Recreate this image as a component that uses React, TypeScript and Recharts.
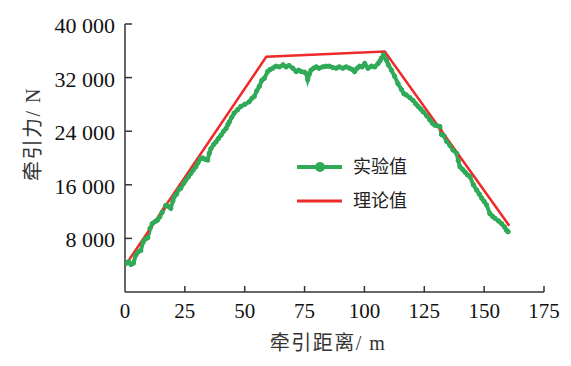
import React from 'react';
import { LineChart, Line, XAxis, YAxis, Legend, Label } from 'recharts';

const GREEN = '#2FAA58';
const RED = '#EE2A2A';
const AXIS = '#333333';
const SERIF = "'Liberation Serif', 'Times New Roman', 'Noto Sans CJK SC', serif";

const xTicks = [0, 25, 50, 75, 100, 125, 150, 175];
const yTicks = [8000, 16000, 24000, 32000, 40000];

const seriesNames = ['实验值', '理论值'];

// 实验值 (distance m, force N)
const experimental = [
  [0.5, 4300], [1.5, 4500], [2.5, 4100], [3.5, 4300], [4.5, 5500], [5.5, 6000], [6.6, 6200],
  [7.5, 7400], [8.5, 7900], [9.5, 8100], [10.5, 9500], [11.4, 10200], [12.5, 10500], [13.5, 10700],
  [14.5, 11200], [15.5, 11900], [17.0, 12900], [18.0, 12800], [19.1, 12500], [20.0, 13600],
  [20.5, 14200], [21.5, 14600], [22.5, 15300], [23.3, 15500], [24.5, 16200], [25.4, 16700],
  [26.5, 17200], [27.5, 17700], [28.5, 18200], [29.6, 18700], [30.5, 19300], [31.5, 19900],
  [32.4, 20000], [33.5, 19800], [34.5, 19700], [35.2, 20700], [35.9, 21400], [37.0, 22000],
  [38.0, 22400], [39.0, 22900], [40.1, 23400], [41.2, 24000], [42.2, 24400], [43.0, 25000],
  [43.6, 25400], [44.6, 26100], [45.6, 26700], [47.0, 27200], [48.4, 27700], [50.0, 28000],
  [51.9, 28400], [53.0, 28900], [54.0, 29200], [55.0, 30000], [56.1, 30700], [57.2, 31600],
  [58.2, 31900], [59.6, 32900], [60.6, 33200], [61.7, 33400], [63.0, 33700], [64.5, 33600],
  [66.0, 33900], [67.3, 33600], [68.5, 33800], [70.1, 33400], [71.5, 32900], [72.5, 33100],
  [73.6, 32900], [75.0, 32800], [75.7, 32600], [76.3, 31700], [77.0, 32500], [77.7, 33100],
  [78.8, 33400], [79.9, 33600], [81.0, 33400], [82.6, 33600], [84.0, 33700], [85.4, 33700],
  [86.8, 33500], [88.2, 33400], [89.5, 33600], [91.0, 33400], [92.4, 33600], [93.8, 33400],
  [95.0, 33200], [95.9, 32900], [97.0, 33400], [98.0, 33700], [99.0, 33600], [100.1, 34100],
  [101.5, 33400], [102.9, 33700], [104.3, 33600], [105.7, 34100], [106.5, 34500], [107.1, 34900],
  [108.0, 35400], [109.2, 34600], [110.0, 33900], [111.3, 33100], [112.6, 32200], [114.0, 31100],
  [115.5, 30200], [116.5, 29600], [117.5, 29400], [119.0, 29000], [120.3, 28600], [121.4, 28100],
  [122.4, 27700], [123.5, 27300], [124.5, 26900], [126.0, 26300], [127.3, 25700], [128.4, 25200],
  [129.4, 24900], [130.5, 24800], [131.5, 24700], [132.2, 23500], [133.2, 23300], [134.3, 22500],
  [135.7, 21900], [137.0, 21200], [138.5, 20700], [139.2, 19600], [139.9, 18700], [141.0, 18300],
  [142.0, 17900], [143.0, 17500], [144.1, 17200], [145.5, 16000], [146.9, 15200], [148.0, 14600],
  [149.0, 14000], [150.0, 13500], [151.0, 13000], [152.4, 11700], [153.5, 11300], [154.5, 11000],
  [156.0, 10600], [157.3, 10200], [158.5, 9700], [159.4, 9200], [160.0, 9000],
];

// 理论值
const theoretical = [
  [0, 3900], [59, 35100], [108.5, 35900], [160.5, 9900],
];

const expData = experimental.map(([x, y]) => ({ x, y }));
const theoData = theoretical.map(([x, y]) => ({ x, y }));

const fmtY = (v: number) => `${Math.floor(v / 1000)} 000`;

const YTick = (props: any) => {
  const { x, y, payload } = props;
  return (
    <g>
      <line x1={x} y1={y} x2={x + 7} y2={y} stroke={AXIS} strokeWidth={1.5} />
      <text x={x - 10} y={y + 9} textAnchor="end" fontSize={22} fontFamily={SERIF} fill="#111">
        {fmtY(payload.value)}
      </text>
    </g>
  );
};

const XTick = (props: any) => {
  const { x, y, payload } = props;
  return (
    <g>
      {payload.value !== 0 && (
        <line x1={x} y1={y} x2={x} y2={y - 6} stroke={AXIS} strokeWidth={1.5} />
      )}
      <text x={x} y={y + 26} textAnchor="middle" fontSize={21} fontFamily={SERIF} fill="#111">
        {payload.value}
      </text>
    </g>
  );
};

const renderLegend = () => (
  <svg width={140} height={70} style={{ display: 'block' }}>
    <line x1={7} y1={17} x2={52} y2={17} stroke={GREEN} strokeWidth={4} />
    <circle cx={30} cy={17} r={5} fill={GREEN} />
    <text x={63} y={17} dominantBaseline="central" fontSize={18} fontFamily={SERIF} fill="#222">
      {seriesNames[0]}
    </text>
    <line x1={7} y1={51} x2={52} y2={51} stroke={RED} strokeWidth={3} />
    <text x={63} y={51} dominantBaseline="central" fontSize={18} fontFamily={SERIF} fill="#222">
      {seriesNames[1]}
    </text>
  </svg>
);

export default function App() {
  return (
    <div style={{ position: 'absolute', left: 0, top: 0, width: 571, height: 366, background: '#fff' }}>
      <LineChart width={571} height={366} margin={{ top: 24, right: 27, left: 0, bottom: 0 }}>
        <XAxis
          type="number"
          dataKey="x"
          domain={[0, 175]}
          ticks={xTicks}
          interval={0}
          height={74}
          tickSize={0}
          tickMargin={0}
          tickLine={false}
          tick={<XTick />}
          axisLine={{ stroke: AXIS, strokeWidth: 1.5 }}
          allowDataOverflow
        >
          <Label
            content={() => (
              <text x={328} y={350} textAnchor="middle" fontSize={20} letterSpacing={1.5} fontFamily={SERIF} fill="#333">
                牵引距离/ m
              </text>
            )}
          />
        </XAxis>
        <YAxis
          type="number"
          dataKey="y"
          domain={[0, 40000]}
          ticks={yTicks}
          interval={0}
          width={125}
          tickSize={0}
          tickMargin={0}
          tickLine={false}
          tick={<YTick />}
          axisLine={{ stroke: AXIS, strokeWidth: 1.5 }}
          allowDataOverflow
        >
          <Label
            content={() => (
              <text
                x={0}
                y={0}
                transform="translate(40,134) rotate(-90)"
                textAnchor="middle"
                fontSize={20}
                letterSpacing={1.5}
                fontFamily={SERIF}
                fill="#333"
              >
                牵引力/ N
              </text>
            )}
          />
        </YAxis>
        <Legend
          layout="horizontal"
          verticalAlign="middle"
          align="center"
          content={renderLegend}
          wrapperStyle={{ position: 'absolute', left: 290, top: 150, width: 140, height: 70 }}
        />
        <Line
          data={expData}
          dataKey="y"
          name={seriesNames[0]}
          type="linear"
          stroke={GREEN}
          strokeWidth={4}
          dot={{ r: 2.2, fill: GREEN, stroke: GREEN, strokeWidth: 1 }}
          isAnimationActive={false}
        />
        <Line
          data={theoData}
          dataKey="y"
          name={seriesNames[1]}
          type="linear"
          stroke={RED}
          strokeWidth={2.5}
          dot={false}
          isAnimationActive={false}
        />
      </LineChart>
    </div>
  );
}
